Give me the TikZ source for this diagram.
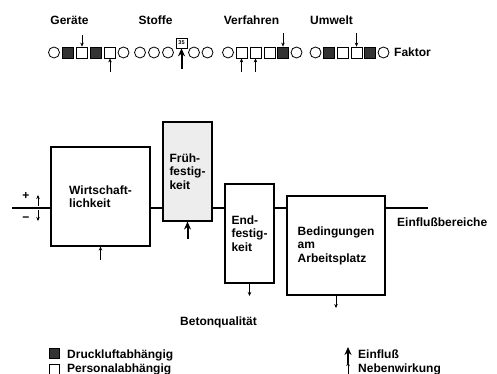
\documentclass[tikz,border=0pt]{standalone}
\usepackage{fontspec}
\setmainfont{Liberation Sans}
\usetikzlibrary{arrows.meta}
\begin{document}
\begin{tikzpicture}[x=1pt,y=-1pt,
  lbl/.style={font=\fontsize{12}{13.5}\selectfont\bfseries, inner sep=0pt},
  box/.style={draw, line width=1.1pt, inner sep=0pt, align=left, font=\fontsize{12}{13.5}\selectfont\bfseries},
  circ/.style={circle, draw, line width=0.8pt, minimum size=11pt, inner sep=0pt},
  sq/.style={rectangle, draw, line width=0.8pt, minimum size=11pt, inner sep=0pt},
  fsq/.style={sq, fill=black!80},
  thinarr/.style={-{Stealth[length=4pt,width=3.5pt]}, line width=0.6pt},
  boldarr/.style={-{Stealth[length=8pt,width=7pt]}, line width=2pt},
  mainline/.style={line width=1.1pt}
]
\useasboundingbox (0,0) rectangle (497,374);

% group labels
\node[lbl, anchor=base] (lg) at (69.5,25) {Geräte};
\node[lbl, anchor=base] (ls) at (155.5,25) {Stoffe};
\node[lbl, anchor=base] (lv) at (251.5,25) {Verfahren};
\node[lbl, anchor=base] (lu) at (331.5,25) {Umwelt};

% symbol row
\node[circ] (g1) at (54,52.5) {};
\node[fsq]  (g2) at (68,52.5) {};
\node[sq]   (g3) at (82,52.5) {};
\node[fsq]  (g4) at (96,52.5) {};
\node[sq]   (g5) at (110,52.5) {};
\node[circ] (g6) at (123.5,52.5) {};

\node[circ] (s1) at (140,52.5) {};
\node[circ] (s2) at (154,52.5) {};
\node[circ] (s3) at (168,52.5) {};
\node[circ] (s4) at (194,52.5) {};
\node[circ] (s5) at (207.5,52.5) {};

\node[circ] (v1) at (228,52.5) {};
\node[sq]   (v2) at (241.5,52.5) {};
\node[sq]   (v3) at (255.5,52.5) {};
\node[sq]   (v4) at (269.5,52.5) {};
\node[fsq]  (v5) at (283,52.5) {};
\node[circ] (v6) at (296.5,52.5) {};

\node[circ] (u1) at (315.5,52.5) {};
\node[fsq]  (u2) at (329,52.5) {};
\node[sq]   (u3) at (342.5,52.5) {};
\node[sq]   (u4) at (356.5,52.5) {};
\node[fsq]  (u5) at (370,52.5) {};
\node[circ] (u6) at (383.5,52.5) {};

\node[lbl, anchor=base west] (faktor) at (394,57) {Faktor};

\node[draw, line width=0.6pt, minimum width=11pt, minimum height=10pt, inner sep=0pt,
      font=\fontsize{5.5}{6}\selectfont\bfseries] (box35) at (181.5,43) {35};

% arrows in the symbol row
\coordinate (ga1) at (82,35);
\coordinate (ga2) at (110,72);
\coordinate (sa)  at (181.5,69);
\coordinate (va1) at (241.5,72);
\coordinate (va2) at (255.5,72);
\coordinate (va3) at (283,33);
\coordinate (ua1) at (356.5,33);
\draw[thinarr] (ga1) -- (g3);
\draw[thinarr] (ga2) -- (g5);
\draw[boldarr] (sa) -- (box35);
\draw[thinarr] (va1) -- (v2);
\draw[thinarr] (va2) -- (v3);
\draw[thinarr] (va3) -- (v5);
\draw[thinarr] (ua1) -- (u4);

% boxes
\node[box, minimum width=99pt, minimum height=99pt] (wirt) at (100.5,196.5) {Wirtschaft-\\lichkeit};
\node[box, fill=black!7, minimum width=49pt, minimum height=99pt] (frueh) at (187.5,171.5) {Früh-\\festig-\\keit};
\node[box, minimum width=49pt, minimum height=99pt] (ende) at (249.5,233.5) {End-\\festig-\\keit};
\node[box, minimum width=98pt, minimum height=99pt] (bed) at (336,245.5) {Bedingungen\\am\\Arbeitsplatz};

% main line
\coordinate (lstart) at (12,208);
\coordinate (lend) at (428,208);
\draw[mainline] (lstart) -- (lstart -| wirt.west);
\draw[mainline] (wirt.east |- lstart) -- (frueh.west |- lstart);
\draw[mainline] (frueh.east |- lstart) -- (ende.west |- lstart);
\draw[mainline] (ende.east |- lstart) -- (bed.west |- lstart);
\draw[mainline] (bed.east |- lstart) -- (lend);

\node[lbl, anchor=base west] (einb) at (397,226) {Einflußbereiche};

% plus / minus
\node[lbl] (plus) at (26,196) {+};
\node[lbl] (minus) at (26,219) {−};
\coordinate (pu0) at (38,206);
\coordinate (pu1) at (38,195);
\coordinate (pd0) at (38,210);
\coordinate (pd1) at (38,221);
\draw[thinarr] (pu0) -- (pu1);
\draw[thinarr] (pd0) -- (pd1);

% arrows at the bottom of boxes
\coordinate (wa) at (100.5,260);
\coordinate (fa) at (187.5,239);
\coordinate (ea) at (249.5,296);
\coordinate (ba) at (336,308);
\draw[thinarr] (wa) -- (wirt);
\draw[boldarr] (fa) -- (frueh);
\draw[thinarr] (ende) -- (ea);
\draw[thinarr] (bed) -- (ba);

\node[lbl, anchor=base] (beton) at (218.5,325) {Betonqualität};

% legend
\node[fsq, minimum size=10pt] (lf) at (54.5,353.5) {};
\node[sq, minimum size=10pt] (le) at (54.5,369) {};
\node[lbl, anchor=base west] (ldr) at (67,358.5) {Druckluftabhängig};
\node[lbl, anchor=base west] (lpe) at (67,372) {Personalabhängig};

\coordinate (lb0) at (348,363);
\coordinate (lb1) at (348,347);
\coordinate (ls0) at (348,374);
\coordinate (ls1) at (348,362);
\draw[boldarr, line width=1.6pt] (lb0) -- (lb1);
\draw[thinarr] (ls0) -- (ls1);
\node[lbl, anchor=base west] (lei) at (358,358.5) {Einfluß};
\node[lbl, anchor=base west] (lne) at (358,372) {Nebenwirkung};
\end{tikzpicture}
\end{document}
